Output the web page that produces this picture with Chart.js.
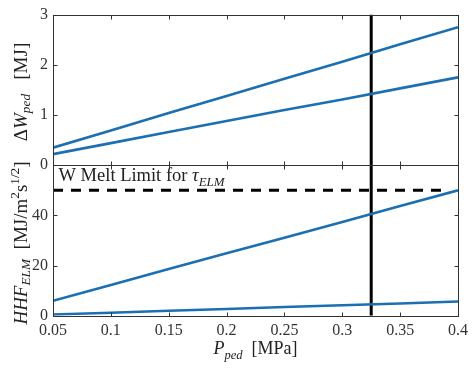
<!DOCTYPE html>
<html><head><meta charset="utf-8">
<script src="https://cdn.jsdelivr.net/npm/chart.js@4.4.0/dist/chart.umd.min.js"></script>
<style>html,body{margin:0;padding:0;background:#fff}#wrap{width:474px;height:368px;position:relative}</style>
</head><body><div id="wrap"><canvas id="c" width="474" height="368"></canvas></div>
<script>
// ---- data ----
const pPed      = [0.05, 0.10, 0.15, 0.20, 0.25, 0.30, 0.35, 0.40];
const dWUpper   = [0.35, 0.69, 1.04, 1.38, 1.72, 2.06, 2.41, 2.75];
const dWLower   = [0.22, 0.44, 0.66, 0.88, 1.10, 1.31, 1.53, 1.75];
const hhfUpper  = [6.0, 12.3, 18.6, 24.9, 31.1, 37.4, 43.7, 50.0];
const hhfLower  = [0.5, 1.2, 2.0, 2.7, 3.5, 4.2, 4.9, 5.7];
const xTicks      = [0.05, 0.10, 0.15, 0.20, 0.25, 0.30, 0.35, 0.40];
const xTickLabels = ['0.05','0.1','0.15','0.2','0.25','0.3','0.35','0.4'];
const dWTicks   = [0, 1, 2, 3];
const hhfTicks  = [0, 20, 40];
const pOperating = 0.325;
const meltLimit  = 50;
const meltLimitEnd = 0.39;

const FONT = '"Liberation Serif", "DejaVu Serif", serif';
const AX = '#333333';
const BLUE = '#1b6fb3';

function pts(xs, ys){ return xs.map((x,i)=>({x:x, y:ys[i]})); }

function richWidth(ctx, segs, size){
  let w=0;
  for(const s of segs){
    const sz = (s.sub||s.sup)? size*0.7 : size;
    ctx.font = (s.it?'italic ':'') + sz + 'px ' + FONT;
    w += ctx.measureText(s.t).width;
  }
  return w;
}
function drawRich(ctx, segs, size, x, y, subShift){
  let cx=x;
  const ss = subShift || 0.25;
  for(const s of segs){
    const sz = (s.sub||s.sup)? size*0.7 : size;
    ctx.font = (s.it?'italic ':'') + sz + 'px ' + FONT;
    const dy = s.sub? size*ss : (s.sup? -size*0.4 : 0);
    ctx.fillText(s.t, cx, y+dy);
    cx += ctx.measureText(s.t).width;
  }
}

const decor = {
  id:'decor',
  afterDatasetsDraw(chart){
    const ctx = chart.ctx;
    const xs = chart.scales.x, y1 = chart.scales.y, y2 = chart.scales.y2;
    ctx.save();
    ctx.strokeStyle = AX; ctx.lineWidth = 1;
    const L = Math.round(xs.left)+0.5, R = Math.round(xs.right)+0.5;
    for(const s of [y1,y2]){
      const T = Math.round(s.top)+0.5, B = Math.round(s.bottom)+0.5;
      ctx.strokeRect(L, T, R-L, B-T);
      ctx.beginPath();
      for(const v of xTicks){
        const px = Math.round(xs.getPixelForValue(v))+0.5;
        ctx.moveTo(px,T); ctx.lineTo(px,T+4);
        ctx.moveTo(px,B); ctx.lineTo(px,B-4);
      }
      const tk = s===y1? dWTicks : hhfTicks;
      for(const v of tk){
        const py = Math.round(s.getPixelForValue(v))+0.5;
        ctx.moveTo(L,py); ctx.lineTo(L+4,py);
        ctx.moveTo(R,py); ctx.lineTo(R-4,py);
      }
      ctx.stroke();
    }
    ctx.fillStyle = '#222';
    ctx.textBaseline = 'alphabetic';
    drawRich(ctx, [{t:'W Melt Limit for '},{t:'τ',it:true},{t:'ELM',it:true,sub:true}], 18.5, L+5, y2.getPixelForValue(meltLimit)-9);
    const xt = [{t:'P',it:true},{t:'ped',it:true,sub:true},{t:'  [MPa]'}];
    const xw = richWidth(ctx, xt, 18);
    drawRich(ctx, xt, 18, (xs.left+xs.right)/2 - xw/2, 354);
    const t1 = [{t:'Δ'},{t:'W',it:true},{t:'ped',it:true,sub:true},{t:'   [MJ]'}];
    const t2 = [{t:'HHF',it:true},{t:'ELM',it:true,sub:true},{t:'  [MJ/m'},{t:'2',sup:true},{t:'s'},{t:'1/2',sup:true},{t:']'}];
    for(const [segs, s, c] of [[t1,y1,92],[t2,y2,243]]){
      const w = richWidth(ctx, segs, 19);
      ctx.save();
      ctx.translate(27, c);
      ctx.rotate(-Math.PI/2);
      drawRich(ctx, segs, 19, -w/2, 0, 0.18);
      ctx.restore();
    }
    ctx.restore();
  }
};

const lineDs = (data, axis, extra) => Object.assign({
  data, yAxisID: axis, borderColor: BLUE, borderWidth: 2.6, pointRadius: 0,
  showLine: true, fill: false, tension: 0
}, extra||{});

new Chart(document.getElementById('c'), {
  type: 'line',
  data: { datasets: [
    lineDs(pts(pPed, dWUpper), 'y'),
    lineDs(pts(pPed, dWLower), 'y'),
    lineDs(pts(pPed, hhfUpper), 'y2'),
    lineDs(pts(pPed, hhfLower), 'y2'),
    lineDs([{x:pPed[0],y:meltLimit},{x:meltLimitEnd,y:meltLimit}], 'y2', {borderColor:'#000', borderWidth:3, borderDash:[10,8]}),
    lineDs([{x:pOperating,y:0},{x:pOperating,y:3}], 'y', {borderColor:'#000', borderWidth:3}),
    lineDs([{x:pOperating,y:0},{x:pOperating,y:60}], 'y2', {borderColor:'#000', borderWidth:3})
  ]},
  options: {
    responsive: false, animation: false, devicePixelRatio: 1,
    layout: { padding: { left: 27, right: 16, top: 13, bottom: 23 } },
    plugins: { legend: {display:false}, tooltip: {enabled:false} },
    scales: {
      x: { type:'linear', min:0.05, max:0.4,
        grid:{display:false, drawTicks:false}, border:{display:false},
        afterBuildTicks: s => { s.ticks = xTicks.map(v=>({value:v})); },
        ticks:{ callback:(v,i)=>xTickLabels[i], font:{family:FONT,size:16}, color:'#333', padding:5, maxRotation:0, autoSkip:false }
      },
      y2: { type:'linear', position:'left', stack:'s', stackWeight:1, min:0, max:60,
        grid:{display:false, drawTicks:false}, border:{display:false},
        afterBuildTicks: s => { s.ticks = hhfTicks.map(v=>({value:v})); },
        ticks:{ font:{family:FONT,size:16}, color:'#333', padding:5 }
      },
      y: { type:'linear', position:'left', stack:'s', stackWeight:1, min:0, max:3,
        grid:{display:false, drawTicks:false}, border:{display:false},
        afterBuildTicks: s => { s.ticks = dWTicks.map(v=>({value:v})); },
        ticks:{ font:{family:FONT,size:16}, color:'#333', padding:5 }
      }
    }
  },
  plugins: [decor]
});
</script></body></html>
